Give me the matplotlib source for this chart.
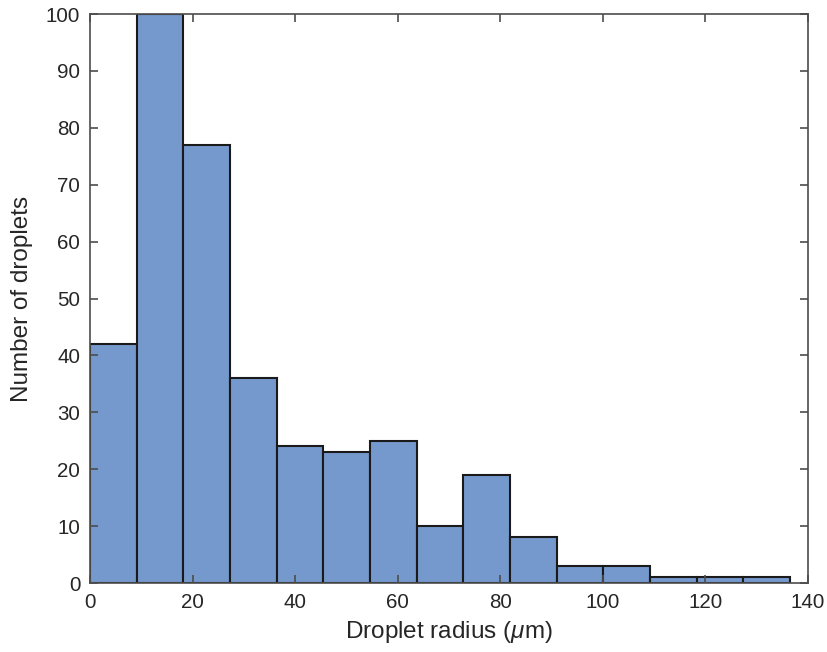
import numpy as np
import matplotlib
matplotlib.use("Agg")
import matplotlib.pyplot as plt

# Data
bin_width = 9.1
counts = [42, 100, 77, 36, 24, 23, 25, 10, 19, 8, 3, 3, 1, 1, 1]
x_ticks = [0, 20, 40, 60, 80, 100, 120, 140]
y_ticks = [0, 10, 20, 30, 40, 50, 60, 70, 80, 90, 100]

plt.rcParams['font.family'] = ['Liberation Sans', 'DejaVu Sans']
plt.rcParams['mathtext.fontset'] = 'custom'
plt.rcParams['mathtext.it'] = 'Liberation Sans:italic'
plt.rcParams['mathtext.rm'] = 'Liberation Sans'
text_col = '#262626'
spine_col = '#4d4d4d'

fig = plt.figure(figsize=(8.27, 6.52), dpi=100)
ax = fig.add_axes([0.1088, 0.1058, 0.977 - 0.1088, 0.9785 - 0.1058])

edges = bin_width * np.arange(len(counts) + 1)
ax.hist(edges[:-1], bins=edges, weights=counts, color='#7599cd',
        edgecolor='#1a1a1a', linewidth=1.5, zorder=1)

ax.set_xlim(0, 140)
ax.set_ylim(0, 100)
ax.set_xticks(x_ticks)
ax.set_yticks(y_ticks)
ax.tick_params(direction='in', length=6, width=1.2, colors=spine_col,
               labelcolor=text_col, labelsize=14.8, top=True, right=True, pad=7)
for s in ax.spines.values():
    s.set_color(spine_col)
    s.set_linewidth(1.2)
    s.set_zorder(3)

ax.set_xlabel('Droplet radius ($\\mu$m)', fontsize=17.5, color=text_col, labelpad=5)
ax.set_ylabel('Number of droplets', fontsize=17.5, color=text_col, labelpad=9)

fig.savefig('out.png', dpi=100)
